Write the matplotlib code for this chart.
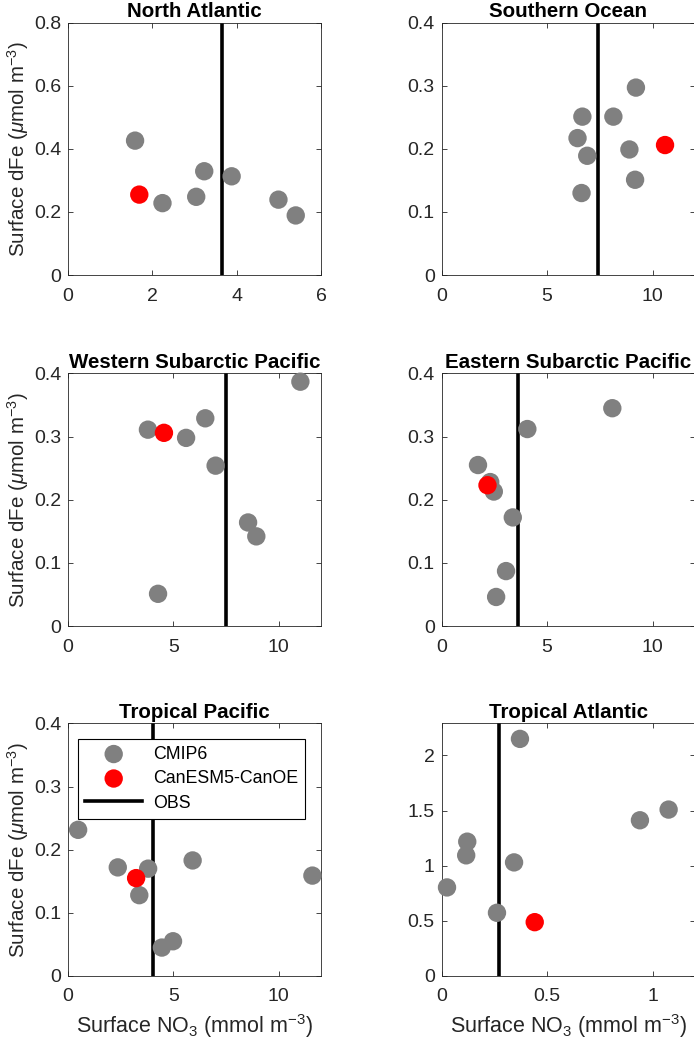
import matplotlib
matplotlib.use('Agg')
import matplotlib.pyplot as plt
import numpy as np

plt.rcParams['font.family'] = ['Liberation Sans', 'DejaVu Sans']
plt.rcParams['mathtext.fontset'] = 'custom'
plt.rcParams['mathtext.rm'] = 'Liberation Sans'
plt.rcParams['mathtext.it'] = 'Liberation Sans:italic'

titles = ['North Atlantic', 'Southern Ocean', 'Western Subarctic Pacific',
          'Eastern Subarctic Pacific', 'Tropical Pacific', 'Tropical Atlantic']

# CMIP6 models (surface NO3, surface dFe)
cmip_no3 = [
    [1.59, 2.24, 3.04, 3.23, 3.88, 4.99, 5.40],
    [9.21, 6.67, 8.14, 6.44, 6.90, 8.90, 9.17, 6.63],
    [11.02, 6.51, 3.79, 5.60, 7.00, 8.54, 8.93, 4.27],
    [8.09, 4.06, 1.72, 2.30, 2.47, 3.37, 3.05, 2.58],
    [0.48, 2.36, 3.80, 3.38, 5.91, 11.59, 4.45, 4.98],
    [0.371, 1.076, 0.940, 0.121, 0.116, 0.343, 0.025, 0.262],
]
cmip_dfe = [
    [0.426, 0.228, 0.248, 0.329, 0.313, 0.239, 0.189],
    [0.297, 0.251, 0.251, 0.217, 0.189, 0.199, 0.151, 0.130],
    [0.387, 0.329, 0.311, 0.298, 0.254, 0.164, 0.142, 0.051],
    [0.345, 0.312, 0.255, 0.228, 0.213, 0.172, 0.087, 0.046],
    [0.2315, 0.172, 0.170, 0.128, 0.183, 0.159, 0.045, 0.055],
    [2.15, 1.509, 1.412, 1.218, 1.094, 1.030, 0.803, 0.573],
]
# CanESM5-CanOE
canoe_no3 = [1.69, 10.59, 4.55, 2.17, 3.23, 0.441]
canoe_dfe = [0.255, 0.206, 0.306, 0.223, 0.155, 0.488]
# observations (surface NO3)
obs_no3 = [3.645, 7.43, 7.51, 3.64, 4.01, 0.273]

xlims = [(0, 6), (0, 12), (0, 12), (0, 12), (0, 12), (0, 1.2)]
ylims = [(0, 0.8), (0, 0.4), (0, 0.4), (0, 0.4), (0, 0.4), (0, 2.29)]
xticks = [[0, 2, 4, 6], [0, 5, 10], [0, 5, 10], [0, 5, 10], [0, 5, 10], [0, 0.5, 1]]
yticks = [[0, 0.2, 0.4, 0.6, 0.8], [0, 0.1, 0.2, 0.3, 0.4], [0, 0.1, 0.2, 0.3, 0.4],
          [0, 0.1, 0.2, 0.3, 0.4], [0, 0.1, 0.2, 0.3, 0.4], [0, 0.5, 1, 1.5, 2]]

fig = plt.figure(figsize=(6.94, 10.5), dpi=100)
lefts = [0.098, 0.6365]
bottoms = [0.738, 0.4038, 0.0705]
w, h = 0.3646, 0.2405
axc = '#262626'

for i in range(6):
    r, c = i // 2, i % 2
    ax = fig.add_axes([lefts[c], bottoms[r], w, h])
    ax.scatter(cmip_no3[i], cmip_dfe[i], s=175, color='#808080', edgecolors='none',
               label='CMIP6', zorder=3, clip_on=False)
    ax.scatter(canoe_no3[i], canoe_dfe[i], s=175, color='#ff0000', edgecolors='none',
               label='CanESM5-CanOE', zorder=4)
    ax.axvline(obs_no3[i], color='k', lw=2.6, label='OBS', zorder=2)
    ax.set_xlim(xlims[i])
    ax.set_ylim(ylims[i])
    ax.set_xticks(xticks[i])
    ax.set_yticks(yticks[i])
    ax.set_xticklabels(['{:g}'.format(t) for t in xticks[i]])
    ax.set_yticklabels(['{:g}'.format(t) for t in yticks[i]])
    ax.tick_params(direction='in', top=True, right=True, labelsize=14,
                   colors=axc, length=3.5, width=0.6)
    ax.tick_params(axis='x', pad=9)
    ax.tick_params(axis='y', pad=5)
    for sp in ax.spines.values():
        sp.set_color(axc)
        sp.set_linewidth(0.6)
    ax.set_title(titles[i], fontsize=14.8, fontweight='bold', pad=4)
    if c == 0:
        ax.set_ylabel(r'Surface dFe ($\mu$mol m$^{-3}$)', fontsize=14.8, color=axc)
        ax.yaxis.set_label_coords(-0.148, 0.5)
    if r == 2:
        ax.set_xlabel(r'Surface NO$_3$ (mmol m$^{-3}$)', fontsize=15.5, color=axc, labelpad=5)
    if i == 4:
        leg = ax.legend(loc='upper left', bbox_to_anchor=(0.04, 0.94), fontsize=12.8,
                        fancybox=False, framealpha=1, edgecolor='k', borderaxespad=0,
                        borderpad=0.4, handlelength=3.2, handletextpad=0.6,
                        labelspacing=0.42)
        leg.get_frame().set_linewidth(0.8)

fig.savefig('out.png', dpi=100)
